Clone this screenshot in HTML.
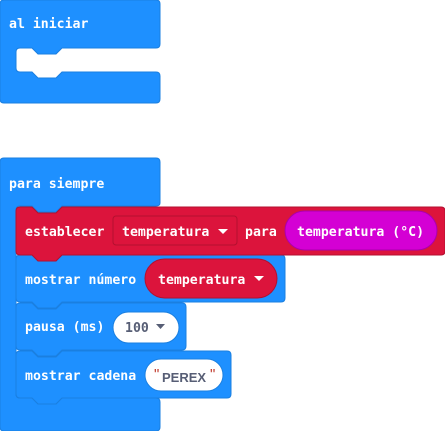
<!DOCTYPE html>
<html><head><style>
html,body{margin:0;padding:0;background:#fff;width:445px;height:431px;overflow:hidden}
text{font-family:"DejaVu Sans Mono","Liberation Mono",monospace;font-weight:bold;font-size:13.2px;fill:#fff}
</style></head><body>
<svg width="445" height="431" viewBox="0 0 445 431" xmlns="http://www.w3.org/2000/svg">
<!-- al iniciar -->
<path d="M4,0 H156 q4,0 4,4 V44 q0,4 -4,4 H62 l-6,6 h-18 l-6,-6 H20 q-4,0 -4,4 V68 q0,4 4,4 H32 l6,6 h18 l6,-6 H156 q4,0 4,4 V99 q0,4 -4,4 H4 q-4,0 -4,-4 V4 q0,-4 4,-4z" fill="#1e90ff" stroke="#1a7fe0" stroke-width="1"/>
<text x="9" y="28">al iniciar</text>

<!-- para siempre -->
<path d="M4,158 H156 q4,0 4,4 V203 q0,3 -4,3 H62 l-6,6 h-18 l-6,-6 H20 q-4,0 -4,4 V394 q0,4 4,4 H32 l6,6 h18 l6,-6 H156 q4,0 4,4 V427 q0,4 -4,4 H4 q-4,0 -4,-4 V162 q0,-4 4,-4z" fill="#1e90ff" stroke="#1a7fe0" stroke-width="1"/>
<text x="9" y="188">para siempre</text>

<!-- mostrar cadena -->
<path d="M20,351 H32 l6,6 h18 l6,-6 H227 q4,0 4,4 V394 q0,4 -4,4 H62 l-6,6 h-18 l-6,-6 H20 q-4,0 -4,-4 V355 q0,-4 4,-4z" fill="#1e90ff" stroke="#1a7fe0" stroke-width="1"/>
<text x="25" y="380">mostrar cadena</text>
<rect x="145" y="359" width="78" height="32" rx="16" fill="#fff" stroke="#1a7fe0"/>
<text x="154" y="379" style="fill:#c0392b;font-family:'Liberation Sans',sans-serif;font-weight:normal;font-size:15px">"</text>
<text x="162" y="382" style="fill:#575e75;font-family:'Liberation Sans',sans-serif;font-size:13px">PEREX</text>
<text x="210" y="379" style="fill:#c0392b;font-family:'Liberation Sans',sans-serif;font-weight:normal;font-size:15px">"</text>

<!-- pausa -->
<path d="M20,303 H32 l6,6 h18 l6,-6 H182 q4,0 4,4 V346 q0,4 -4,4 H62 l-6,6 h-18 l-6,-6 H20 q-4,0 -4,-4 V307 q0,-4 4,-4z" fill="#1e90ff" stroke="#1a7fe0" stroke-width="1"/>
<text x="25" y="331">pausa (ms)</text>
<rect x="113" y="312" width="66" height="31" rx="15.5" fill="#fff" stroke="#1a7fe0"/>
<text x="125" y="332" style="fill:#575e75">100</text>
<path d="M156,324 h9 l-4.5,5z" fill="#575e75"/>

<!-- mostrar numero -->
<path d="M20,255 H32 l6,6 h18 l6,-6 H281 q4,0 4,4 V298 q0,4 -4,4 H62 l-6,6 h-18 l-6,-6 H20 q-4,0 -4,-4 V259 q0,-4 4,-4z" fill="#1e90ff" stroke="#1a7fe0" stroke-width="1"/>
<text x="25" y="284">mostrar número</text>
<rect x="145" y="259" width="132" height="39" rx="19.5" fill="#dc143c" stroke="#b3102f"/>
<text x="158" y="284">temperatura</text>
<path d="M254,276 h10 l-5,5z" fill="#fff"/>

<!-- establecer -->
<path d="M20,207 H32 l6,6 h18 l6,-6 H441 q4,0 4,4 V251 q0,4 -4,4 H62 l-6,6 h-18 l-6,-6 H20 q-4,0 -4,-4 V211 q0,-4 4,-4z" fill="#dc143c" stroke="#b3102f" stroke-width="1"/>
<text x="25" y="236">establecer</text>
<rect x="113" y="216" width="124" height="29" rx="3" fill="#dc143c" stroke="#b3102f"/>
<text x="122" y="236">temperatura</text>
<path d="M218,229 h10 l-5,5z" fill="#fff"/>
<text x="245" y="236">para</text>
<rect x="285" y="211" width="152" height="39" rx="19.5" fill="#d400d4" stroke="#aa00aa"/>
<text x="297" y="236">temperatura (°C)</text>
</svg>
</body></html>
